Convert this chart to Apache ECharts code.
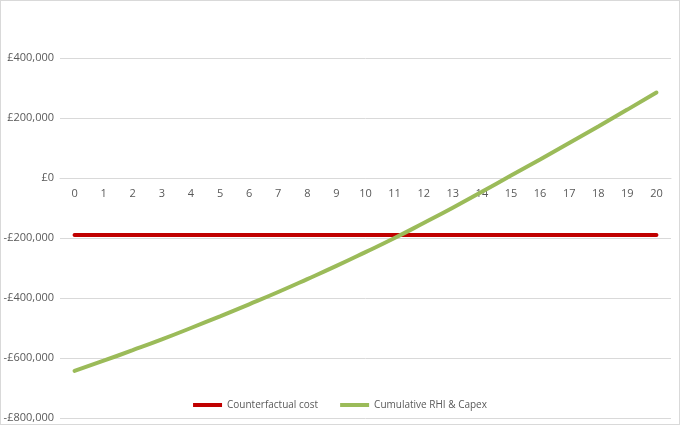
<!DOCTYPE html>
<html>
<head>
<meta charset="utf-8">
<script src="https://cdn.jsdelivr.net/npm/echarts@6/dist/echarts.min.js"></script>
<style>
  html, body { margin: 0; padding: 0; background: #fff; }
  #chart { width: 678px; height: 423px; border: 1px solid #d9d9d9; }
</style>
</head>
<body>
<div id="chart"></div>
<script>
  // years 0..20
  var years = ['0','1','2','3','4','5','6','7','8','9','10','11','12','13','14','15','16','17','18','19','20'];

  // flat counterfactual cost
  var counterfactualCost = [-190000,-190000,-190000,-190000,-190000,-190000,-190000,-190000,-190000,-190000,
    -190000,-190000,-190000,-190000,-190000,-190000,-190000,-190000,-190000,-190000,-190000];

  // cumulative RHI & capex
  var cumulativeRhi = [-643000,-609000,-574000,-538000,-500000,-461000,-421000,-380000,-337000,-293000,
    -247000,-200000,-150000,-99000,-46000,8000,62000,117000,172000,228000,285000];

  var yTicks = { min: -800000, max: 400000, interval: 200000 };

  var chartDom = document.getElementById('chart');
  var chart = echarts.init(chartDom);

  var gridTop = 57, gridBottom = 6;
  var plotH = 423 - gridTop - gridBottom;
  // move the category axis up to the zero line
  var zeroOffset = plotH * (0 - yTicks.min) / (yTicks.max - yTicks.min);

  function fmtPound(v) {
    var s = Math.abs(v).toString().replace(/\B(?=(\d{3})+(?!\d))/g, ',');
    return (v < 0 ? '-' : '') + '£' + s;
  }

  var option = {
    animation: false,
    textStyle: { fontFamily: 'Open Sans, sans-serif' },
    grid: { left: 59, right: 8, top: gridTop, bottom: gridBottom, containLabel: false, outerBoundsMode: 'none' },
    legend: {
      bottom: 9,
      left: 'center',
      itemWidth: 29,
      itemHeight: 4,
      itemGap: 22,
      icon: 'rect',
      textStyle: { color: '#595959', fontSize: 10 },
      data: ['Counterfactual cost', 'Cumulative RHI & Capex']
    },
    xAxis: {
      type: 'category',
      data: years,
      boundaryGap: true,
      offset: -zeroOffset,
      axisLine: { onZero: false, lineStyle: { color: '#d9d9d9' } },
      axisTick: { show: false },
      axisLabel: { color: '#595959', fontSize: 11, margin: 10 }
    },
    yAxis: {
      type: 'value',
      min: yTicks.min,
      max: yTicks.max,
      interval: yTicks.interval,
      axisLine: { show: false },
      axisTick: { show: false },
      axisLabel: { color: '#595959', fontSize: 11, margin: 6, formatter: fmtPound },
      splitLine: { lineStyle: { color: '#d9d9d9' } }
    },
    series: [
      {
        name: 'Counterfactual cost',
        type: 'line',
        data: counterfactualCost,
        symbol: 'none',
        color: '#c00000',
        lineStyle: { width: 4, cap: 'round' }
      },
      {
        name: 'Cumulative RHI & Capex',
        type: 'line',
        data: cumulativeRhi,
        symbol: 'none',
        smooth: true,
        color: '#9bbb59',
        lineStyle: { width: 4, cap: 'round' }
      }
    ]
  };

  chart.setOption(option);
</script>
</body>
</html>
